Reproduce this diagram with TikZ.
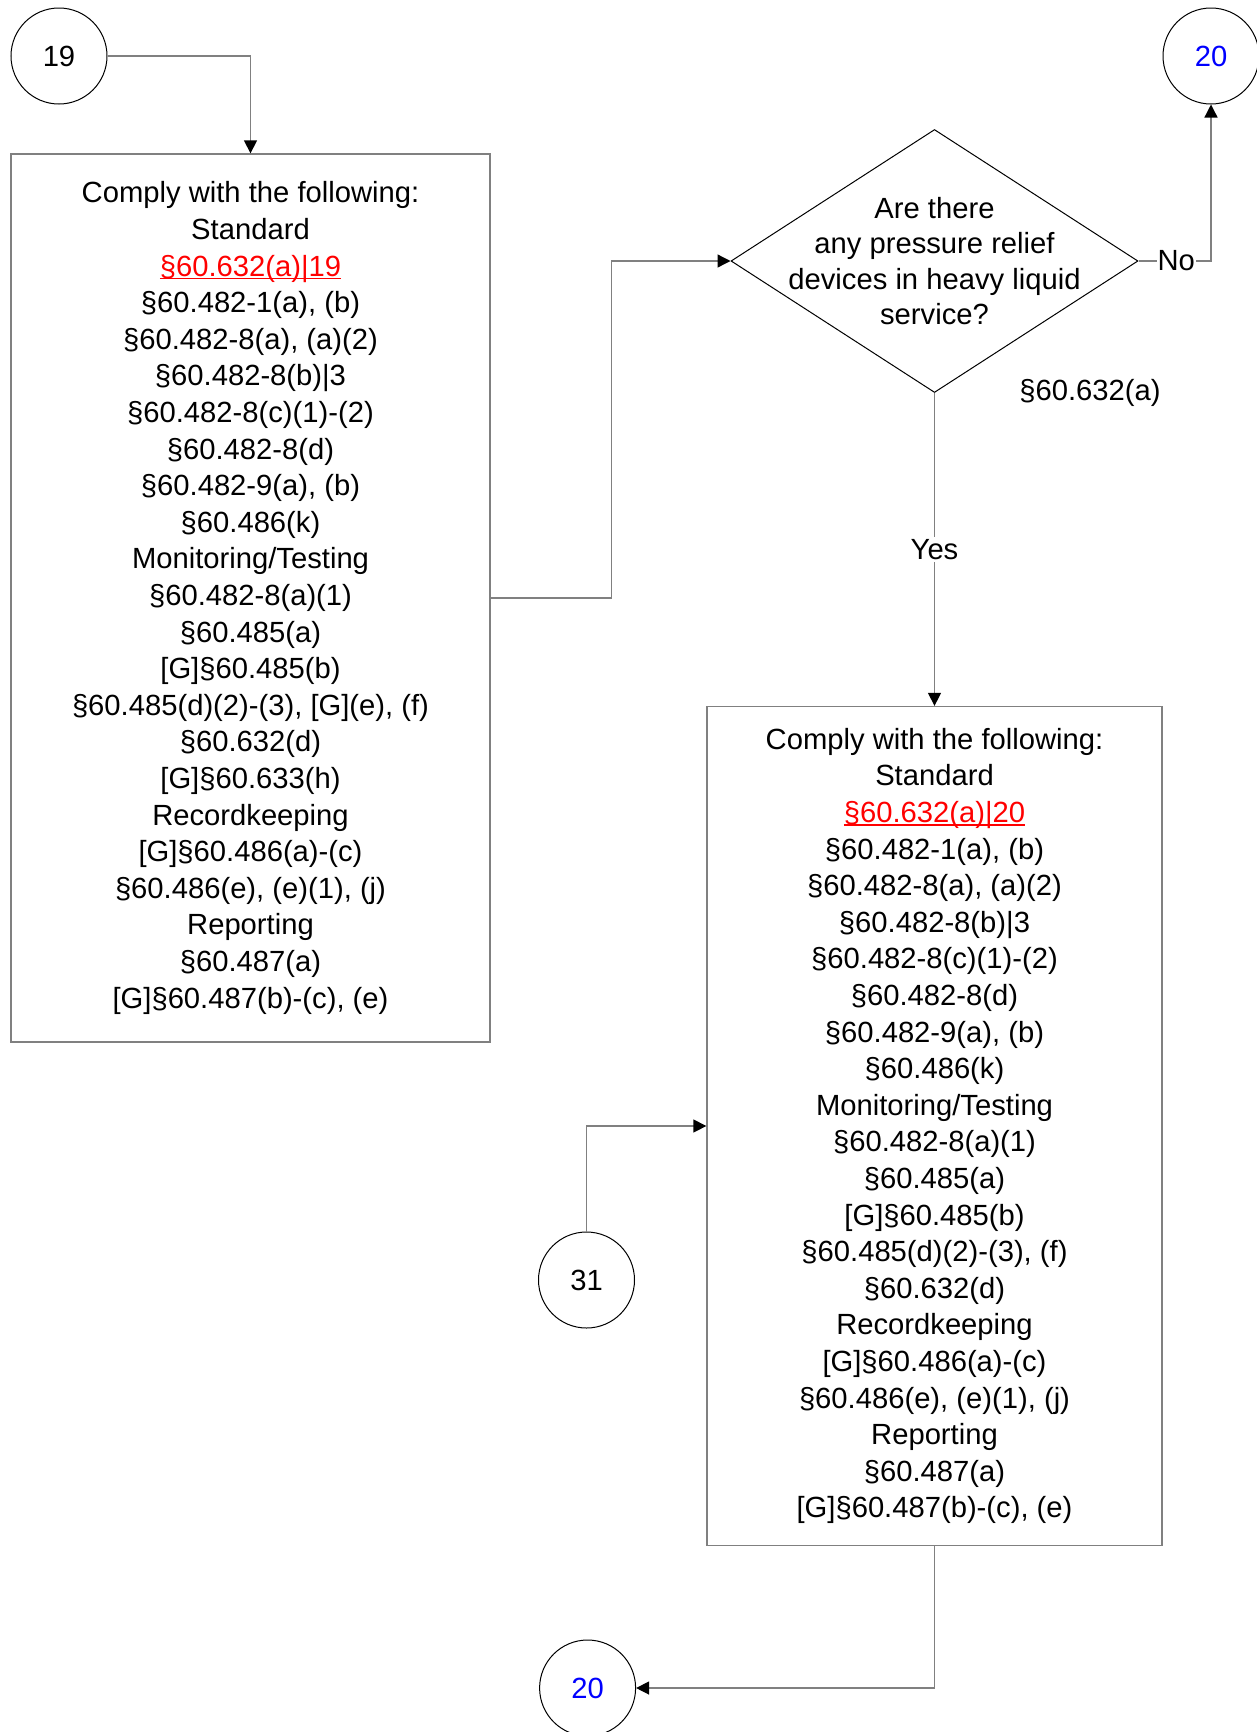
\documentclass[tikz,border=0pt]{standalone}
\usepackage{fontspec}
\setmainfont{Liberation Sans}
\usetikzlibrary{shapes.geometric,arrows.meta}

\newcommand{\reflink}[1]{\textcolor{red}{\setbox0\hbox{#1}\rlap{\rule[-0.11em]{\wd0}{0.06em}}\box0}}

\begin{document}
\begin{tikzpicture}[x=1pt, y=-1pt,
    every node/.style={font=\fontsize{29.2}{36.6}\selectfont},
    conn/.style={circle, draw=black, line width=1pt, minimum size=96pt, inner sep=0pt},
    stepbox/.style={rectangle, draw=gray, line width=1.3pt, align=center, inner sep=0pt},
    ask/.style={diamond, draw=black, line width=1pt, minimum width=407pt, minimum height=263pt, inner sep=0pt},
    flow/.style={draw=gray, line width=1.3pt, -{Triangle[length=13pt, width=13pt, color=black]}}]
    \useasboundingbox (0,0) rectangle (1257,1732);

    \node[conn] (c19) at (59,56) {19};
    \node[stepbox, minimum width=479pt, minimum height=888pt] (st1) at (250.5,598) {Comply with the following:\\Standard\\\reflink{§60.632(a)|19}\\§60.482-1(a), (b)\\§60.482-8(a), (a)(2)\\§60.482-8(b)|3\\§60.482-8(c)(1)-(2)\\§60.482-8(d)\\§60.482-9(a), (b)\\§60.486(k)\\Monitoring/Testing\\§60.482-8(a)(1)\\§60.485(a)\\{[G]}§60.485(b)\\§60.485(d)(2)-(3), [G](e), (f)\\§60.632(d)\\{[G]}§60.633(h)\\Recordkeeping\\{[G]}§60.486(a)-(c)\\§60.486(e), (e)(1), (j)\\Reporting\\§60.487(a)\\{[G]}§60.487(b)-(c), (e)};
    \node[ask, label={[align=center, font=\fontsize{29.2}{35.3}\selectfont]center:Are there\\any pressure relief\\devices in heavy liquid\\service?}] (q1) at (934.5,261) {};
    \node (ref1) at (1090,393) {§60.632(a)};
    \node[conn] (c20a) at (1211,56) {\textcolor{blue}{20}};
    \node[stepbox, minimum width=455pt, minimum height=839pt] (st2) at (934.5,1126) {Comply with the following:\\Standard\\\reflink{§60.632(a)|20}\\§60.482-1(a), (b)\\§60.482-8(a), (a)(2)\\§60.482-8(b)|3\\§60.482-8(c)(1)-(2)\\§60.482-8(d)\\§60.482-9(a), (b)\\§60.486(k)\\Monitoring/Testing\\§60.482-8(a)(1)\\§60.485(a)\\{[G]}§60.485(b)\\§60.485(d)(2)-(3), (f)\\§60.632(d)\\Recordkeeping\\{[G]}§60.486(a)-(c)\\§60.486(e), (e)(1), (j)\\Reporting\\§60.487(a)\\{[G]}§60.487(b)-(c), (e)};
    \node[conn] (c31) at (586.5,1280) {31};
    \node[conn] (c20b) at (587.6,1688) {\textcolor{blue}{20}};

    \draw[flow] (c19) -| (st1);
    \draw[flow] (st1.east) -- ++(120.5,0) |- (q1.west);
    \draw[flow] (q1.east) -| node[pos=0.26, fill=white, inner sep=1pt] {No} (c20a);
    \draw[flow] (q1) -- node[fill=white, inner sep=2pt] {Yes} (st2);
    \draw[flow] (c31) |- (st2);
    \draw[flow] (st2) |- (c20b);
\end{tikzpicture}
\end{document}
